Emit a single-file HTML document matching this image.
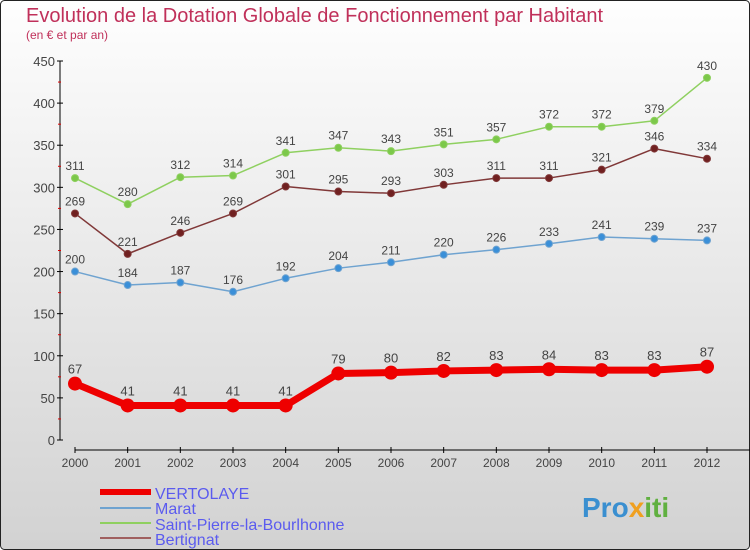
<!DOCTYPE html>
<html><head><meta charset="utf-8"><style>
body{margin:0}
#c{width:750px;height:550px;position:relative;overflow:hidden}
svg text{font-family:"Liberation Sans",sans-serif}
</style></head><body>
<div id="c">
<svg id="s" width="750" height="550" xmlns="http://www.w3.org/2000/svg">
<defs><linearGradient id="bg" x1="0" y1="0" x2="0" y2="1"><stop offset="0" stop-color="#fefefe"/><stop offset="1" stop-color="#d2d2d2"/></linearGradient></defs>
<rect x="0.5" y="0.5" width="749" height="549" rx="4" fill="url(#bg)" stroke="#222"/>
<text x="26" y="22" font-size="20" fill="#c0305a">Evolution de la Dotation Globale de Fonctionnement par Habitant</text>
<text x="26" y="39" font-size="12" fill="#c0305a">(en € et par an)</text>
<g id="axes"></g><g id="series"></g>
<g>
<line x1="100" y1="492" x2="151" y2="492" stroke="#e00" stroke-width="6"/>
<text x="155" y="499" font-size="16" fill="#5b5bef">VERTOLAYE</text>
<line x1="100" y1="508" x2="151" y2="508" stroke="#6fa3d0" stroke-width="2"/>
<text x="155" y="514" font-size="16" fill="#5b5bef">Marat</text>
<line x1="100" y1="523" x2="151" y2="523" stroke="#8fd060" stroke-width="2"/>
<text x="155" y="530" font-size="16" fill="#5b5bef">Saint-Pierre-la-Bourlhonne</text>
<line x1="100" y1="538" x2="151" y2="538" stroke="#a06060" stroke-width="2"/>
<text x="155" y="545" font-size="16" fill="#5b5bef">Bertignat</text>
</g>
<text x="582" y="517" font-size="28" font-weight="bold" fill="#3a8fd0">Pro<tspan fill="#f0a020">x</tspan><tspan fill="#60b040">iti</tspan></text>
</svg></div>
<script>
const years=[2000,2001,2002,2003,2004,2005,2006,2007,2008,2009,2010,2011,2012];
const vertolaye=[67,41,41,41,41,79,80,82,83,84,83,83,87];
const marat=[200,184,187,176,192,204,211,220,226,233,241,239,237];
const stPierre=[311,280,312,314,341,347,343,351,357,372,372,379,430];
const bertignat=[269,221,246,269,301,295,293,303,311,311,321,346,334];
const yTicks=[0,50,100,150,200,250,300,350,400,450];
const NS="http://www.w3.org/2000/svg";
const xS=i=>75+i*(707-75)/(years.length-1);
const yS=v=>440-v*(379/450);
function mk(t,a,p){const e=document.createElementNS(NS,t);for(const k in a)e.setAttribute(k,a[k]);p.appendChild(e);return e;}
const ax=document.getElementById('axes');
let l=mk('line',{x1:60,y1:yS(450),x2:60,y2:440,stroke:'#000'},ax);


yTicks.forEach(v=>{
 mk('line',{x1:57,y1:yS(v),x2:63,y2:yS(v),stroke:'#000'},ax);
 if(v<450)mk('line',{x1:58,y1:yS(v+25),x2:61,y2:yS(v+25),stroke:'#d00'},ax);
 const t=mk('text',{x:55,y:yS(v)+5,'text-anchor':'end','font-size':13,fill:'#444'},ax);t.textContent=v;
 
 
});
l=mk('line',{x1:75,y1:450,x2:750,y2:450,stroke:'#000'},ax);


years.forEach((y,i)=>{
 mk('line',{x1:xS(i),y1:447,x2:xS(i),y2:453,stroke:'#000'},ax);
 const t=mk('text',{x:xS(i),y:467,'text-anchor':'middle','font-size':12,fill:'#444'},ax);t.textContent=y;
 
 
});
const sg=document.getElementById('series');
function draw(data,name,col,dot,w,r,fs){
 const g=mk('g',{},sg);
 
 
 const p=mk('polyline',{points:data.map((v,i)=>xS(i)+','+yS(v)).join(' '),fill:'none',stroke:col,'stroke-width':w,'stroke-linejoin':'round'},g);
 
 
 data.forEach((v,i)=>{
  const c=mk('circle',{cx:xS(i),cy:yS(v),r:r,fill:dot,stroke:col,'stroke-width':w>3?0:1},g);
  
  
  const t=mk('text',{x:xS(i),y:yS(v)-(w>3?10:8),'text-anchor':'middle','font-size':fs,fill:'#444'},g);t.textContent=v;
  
  
 });
}
draw(stPierre,'saint-pierre','#8fd060','#7cc84a',1.5,3.5,12);
draw(bertignat,'bertignat','#803838','#702020',1.5,3.5,12);
draw(marat,'marat','#6fa3d0','#3a8fd8',1.5,3.5,12);
draw(vertolaye,'vertolaye','#e00','#e00',7,7,13);
</script>
</body></html>
